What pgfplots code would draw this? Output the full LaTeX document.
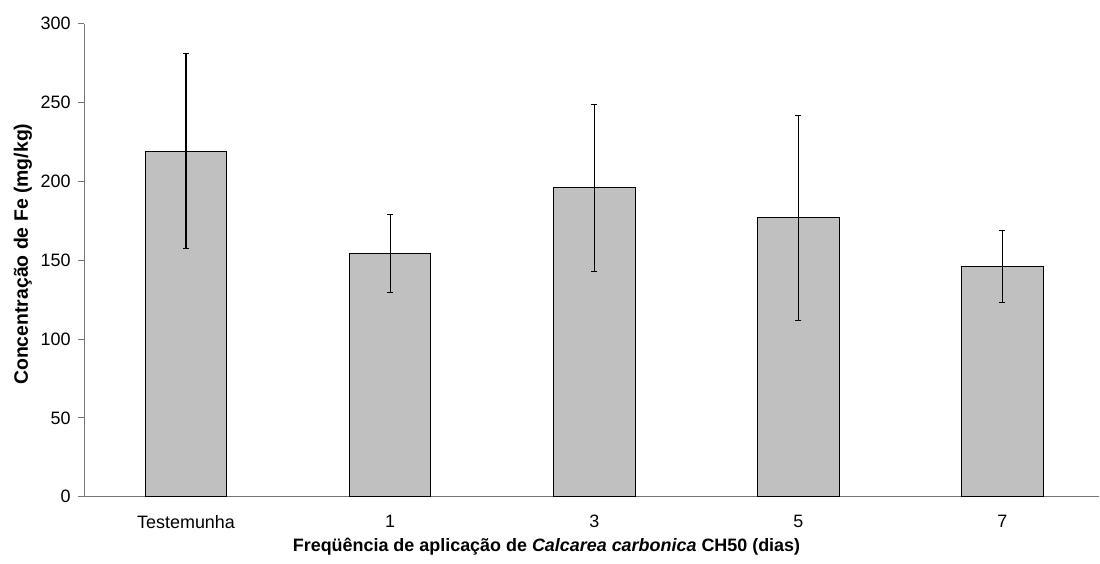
\documentclass[border=0pt]{standalone}
\usepackage{pgfplots}
\pgfplotsset{compat=1.18}
\usepackage{fontspec}
\setmainfont{Liberation Sans}
\definecolor{barfill}{RGB}{192,192,192}
\definecolor{axisgray}{RGB}{118,118,118}
\begin{document}
\begin{tikzpicture}
\path[use as bounding box] (0,0) rectangle (1100bp,564bp);
\begin{axis}[
  at={(84bp,67.3bp)}, anchor=south west,
  scale only axis, width=1015bp, height=473bp,
  xmin=-0.5, xmax=4.473, ymin=0, ymax=300,
  axis x line*=bottom, axis y line*=left,
  axis line style={draw=axisgray, line width=1bp},
  tick align=outside,
  major tick length=6bp,
  tick style={draw=axisgray, line width=1bp},
  xtick={0,1,2,3,4}, xticklabels={Testemunha,1,3,5,7},
  x tick style={draw=none},
  extra x ticks={-0.5,0.5,1.5,2.5,3.5},
  extra x tick labels={},
  extra x tick style={tick style={draw=axisgray, line width=1bp}, major tick length=6bp},
  ytick={0,50,...,300},
  ticklabel style={font=\fontsize{18}{21}\selectfont},
  xticklabel style={yshift=-9bp},
  yticklabel style={xshift=-4bp},
  /pgf/number format/assume math mode=true,
  xlabel={\textbf{Freqüência de aplicação de \textit{Calcarea carbonica} CH50 (dias)}},
  ylabel={\textbf{Concentração de Fe (mg/kg)}},
  xlabel style={font=\fontsize{18}{21}\selectfont, at={(axis description cs:0,0)}, anchor=center, xshift=462.5bp, yshift=-50.3bp},
  ylabel style={font=\fontsize{19.5}{22}\selectfont, at={(axis description cs:0,0.5)}, anchor=center, xshift=6bp, yshift=61bp},
  clip=false,
]
\addplot[ybar, bar width=0.4, fill=barfill, draw=black, line width=1bp,
  error bars/.cd, y dir=both, y explicit,
  error bar style={line width=1.2bp, draw=black},
  error mark options={rotate=90, mark size=3bp, line width=1.2bp, draw=black}]
  table[x=x, y=y, y error=e] {
  x y e
  0 219.1 61.8
  1 154.3 24.9
  2 195.8 53.0
  3 176.8 64.8
  4 145.9 22.8
  };
\end{axis}
\end{tikzpicture}
\end{document}
